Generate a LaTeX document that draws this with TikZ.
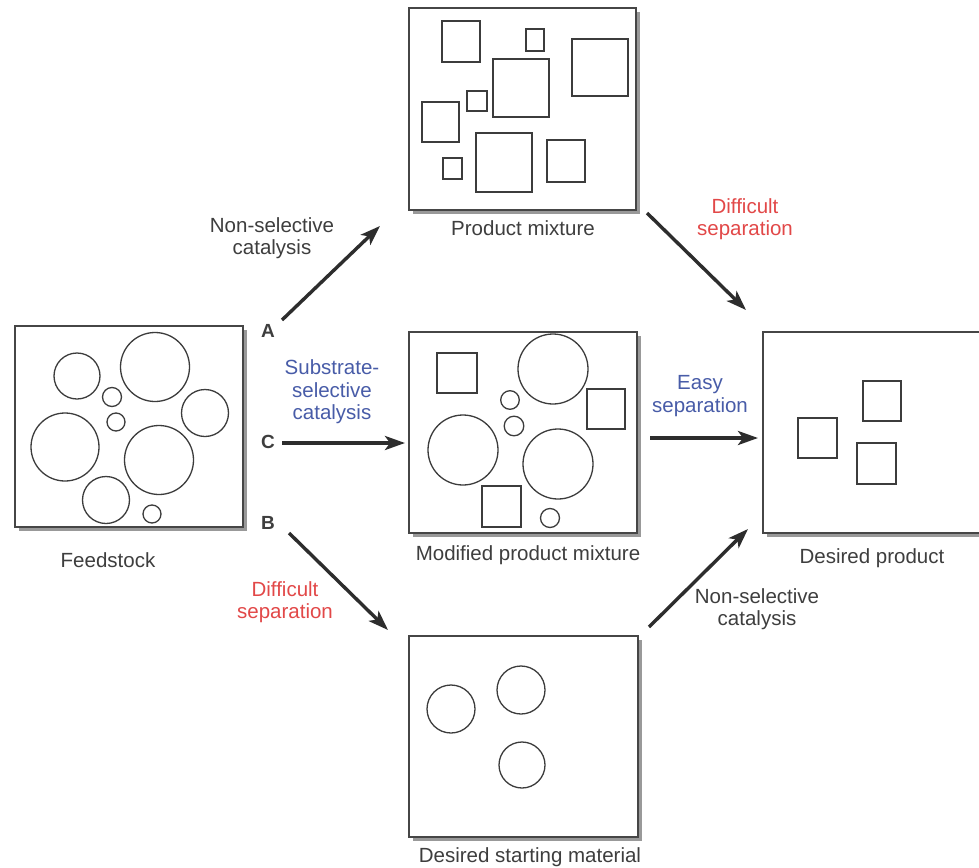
\documentclass[tikz,border=0pt]{standalone}
\usepackage{fontspec}
\setmainfont{Liberation Sans}
\usetikzlibrary{shadows,arrows.meta}
\definecolor{txtgray}{RGB}{62,62,62}
\definecolor{edgegray}{RGB}{70,70,70}
\definecolor{shapegray}{RGB}{60,60,60}
\definecolor{arrowgray}{RGB}{45,45,45}
\definecolor{lblue}{RGB}{72,92,168}
\definecolor{lred}{RGB}{226,72,72}
\tikzset{
  panel/.style={draw=edgegray, line width=1.5pt, fill=white, inner sep=0pt,
    drop shadow={shadow xshift=4pt, shadow yshift=-4pt, fill=black!40, opacity=1}},
  ring/.style={draw=shapegray, line width=1.3pt},
  sq/.style={draw=shapegray, line width=1.3pt},
  lbl/.style={text=txtgray, align=center, inner sep=0pt, font=\fontsize{20.5}{21.5}\selectfont},
  letter/.style={text=txtgray, inner sep=0pt, font=\fontsize{19}{21}\selectfont\bfseries},
  bluelbl/.style={lbl, text=lblue, font=\fontsize{20.5}{22.5}\selectfont},
  redlbl/.style={lbl, text=lred, font=\fontsize{20.5}{22}\selectfont},
  flow/.style={draw=arrowgray, line width=3.4pt, -{Stealth[length=20pt, width=14pt, inset=5pt]}}
}
\begin{document}
\begin{tikzpicture}[x=1pt, y=-1pt]
\clip (0,0) rectangle (979,867);
\fill[white] (0,0) rectangle (979,867);

% panels
\node[panel, minimum width=228pt, minimum height=201pt] (feed) at (129,426.5) {};
\node[panel, minimum width=227pt, minimum height=202pt] (pm) at (522.5,109) {};
\node[panel, minimum width=228pt, minimum height=201pt] (mpm) at (523,432.5) {};
\node[panel, minimum width=229pt, minimum height=201pt] (dsm) at (523.5,736.5) {};
\node[panel, minimum width=230pt, minimum height=201pt] (dp) at (878,432.5) {};

% feedstock circles
\draw[ring] (77,376) circle[radius=23pt];
\draw[ring] (155,367) circle[radius=34.5pt];
\draw[ring] (112,397) circle[radius=9.5pt];
\draw[ring] (116,422) circle[radius=9pt];
\draw[ring] (205,413) circle[radius=23.5pt];
\draw[ring] (65,447) circle[radius=34pt];
\draw[ring] (159,460) circle[radius=34.5pt];
\draw[ring] (106,500) circle[radius=23.5pt];
\draw[ring] (152,514) circle[radius=9pt];

% product mixture squares
\draw[sq] (442,21) rectangle (480,62);
\draw[sq] (526,29) rectangle (544,51);
\draw[sq] (572,39) rectangle (628,96);
\draw[sq] (493,59) rectangle (549,117);
\draw[sq] (467,91) rectangle (487,111);
\draw[sq] (422,102) rectangle (459,142);
\draw[sq] (443,158) rectangle (462,179);
\draw[sq] (476,133) rectangle (532,192);
\draw[sq] (547,140) rectangle (585,182);

% modified product mixture
\draw[sq] (437,353) rectangle (477,393);
\draw[sq] (587,389) rectangle (625,429);
\draw[sq] (482,486) rectangle (521,527);
\draw[ring] (553,369) circle[radius=35pt];
\draw[ring] (463,450) circle[radius=35pt];
\draw[ring] (558,464) circle[radius=35pt];
\draw[ring] (510,400) circle[radius=9.3pt];
\draw[ring] (514,426) circle[radius=9.8pt];
\draw[ring] (550,518) circle[radius=9.5pt];

% desired product squares
\draw[sq] (798,418) rectangle (837,458);
\draw[sq] (863,381) rectangle (901,421);
\draw[sq] (857,443) rectangle (896,484);

% desired starting material circles
\draw[ring] (451,709) circle[radius=24pt];
\draw[ring] (521,690) circle[radius=24pt];
\draw[ring] (522,765) circle[radius=23pt];

% captions
\node[lbl] (feedcap) at (108,560) {Feedstock};
\node[lbl] (pmcap) at (523,228) {Product mixture};
\node[lbl] (mpmcap) at (528,555) {Modified product mixture};
\node[lbl] (dpcap) at (872,558) {Desired product};
\node[lbl] (dsmcap) at (530,857) {Desired starting material};

% route letters
\node[letter] (A) at (268,331) {A};
\node[letter] (C) at (268,442) {C};
\node[letter] (B) at (268,523) {B};

% arrow end points
\coordinate (aS) at (282,320);
\coordinate (aE) at (380,226);
\coordinate (bS) at (289,533);
\coordinate (bE) at (388,630);
\coordinate (cS) at (282,443);
\coordinate (cE) at (405,443);
\coordinate (pS) at (647,213);
\coordinate (pE) at (746,310);
\coordinate (eS) at (650,438);
\coordinate (eE) at (758,438);
\coordinate (nS) at (649,627);
\coordinate (nE) at (748,529);

\draw[flow] (aS) -- (aE);
\draw[flow] (bS) -- (bE);
\draw[flow] (cS) -- (cE);
\draw[flow] (pS) -- (pE);
\draw[flow] (eS) -- (eE);
\draw[flow] (nS) -- (nE);

% arrow labels
\node[lbl] (ns1) at (272,238) {Non-selective\\catalysis};
\node[redlbl] (ds1) at (745,219) {Difficult\\separation};
\node[bluelbl] (ssc) at (332,392) {Substrate-\\selective\\catalysis};
\node[bluelbl] (es) at (700,396) {Easy\\separation};
\node[redlbl] (ds2) at (285,602) {Difficult\\separation};
\node[lbl] (ns2) at (757,609) {Non-selective\\catalysis};
\end{tikzpicture}
\end{document}
